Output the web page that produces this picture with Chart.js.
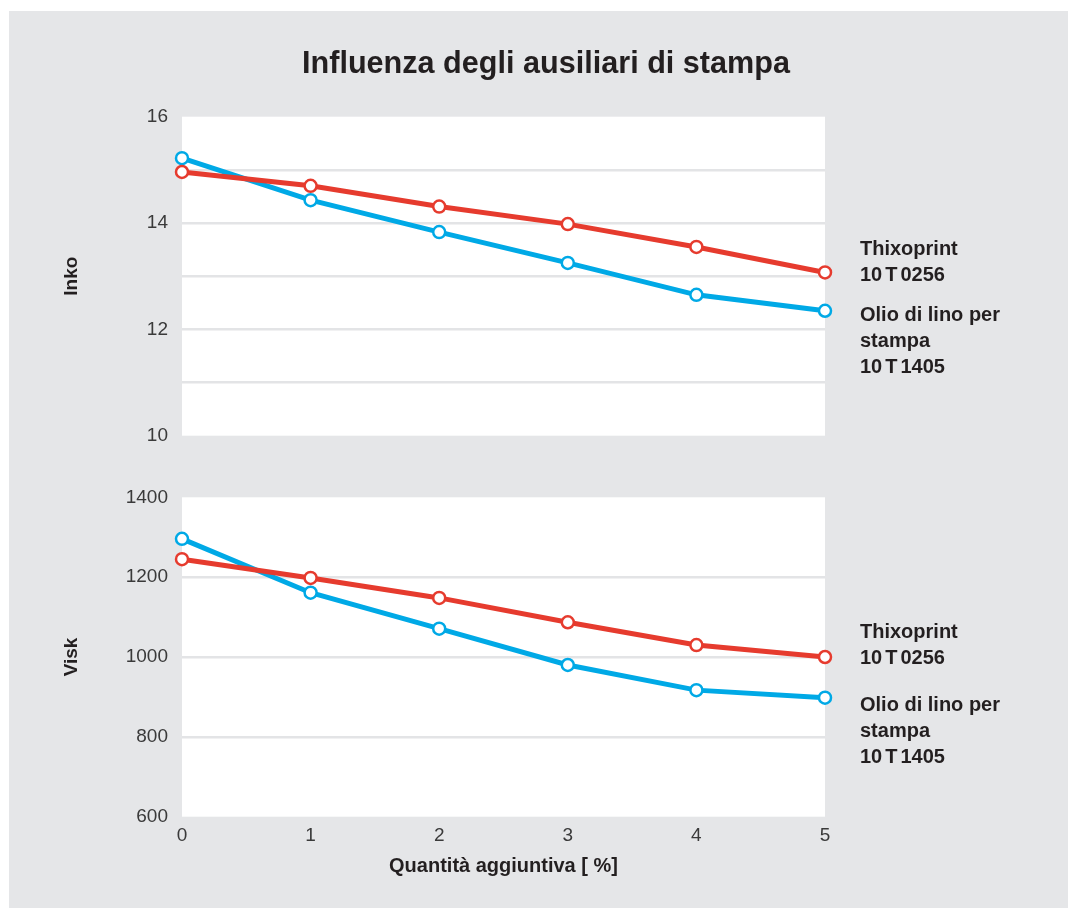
<!DOCTYPE html>
<html>
<head>
<meta charset="utf-8">
<script src="https://cdn.jsdelivr.net/npm/chart.js@4/dist/chart.umd.min.js"></script>
<style>
html,body{margin:0;padding:0;background:#fff;}
#wrap{position:relative;width:1068px;height:908px;overflow:hidden;}
#bg{position:absolute;left:9px;top:11px;right:0;bottom:0;background:#e5e6e8;}
canvas{position:absolute;left:0;top:0;}
.t{position:absolute;font-family:'Liberation Sans',Arial,Helvetica,sans-serif;color:#231f20;white-space:nowrap;}
#title{left:0;width:1092px;text-align:center;top:47px;font-size:30.6px;line-height:30px;font-weight:bold;}
.lg{left:860px;font-size:20px;line-height:26px;font-weight:bold;}
.sp{margin:0 3px;}
</style>
</head>
<body>
<div id="wrap">
  <div id="bg"></div>
  <canvas id="c1" width="1068" height="908"></canvas>
  <canvas id="c2" width="1068" height="908"></canvas>
  <div class="t" id="title">Influenza degli ausiliari di stampa</div>
  <div class="t lg" style="top:235px">Thixoprint<br>10<span class="sp">T</span>0256</div>
  <div class="t lg" style="top:301px">Olio di lino per<br>stampa<br>10<span class="sp">T</span>1405</div>
  <div class="t lg" style="top:618px">Thixoprint<br>10<span class="sp">T</span>0256</div>
  <div class="t lg" style="top:691px">Olio di lino per<br>stampa<br>10<span class="sp">T</span>1405</div>
</div>
<script>
// ---- data ----
const quantities = [0, 1, 2, 3, 4, 5];
const seriesNames = ['Thixoprint 10T0256', 'Olio di lino per stampa 10T1405'];
const inkoThixoprint = [14.96, 14.70, 14.31, 13.98, 13.55, 13.07];
const inkoOlio = [15.22, 14.43, 13.83, 13.25, 12.65, 12.35];
const viskThixoprint = [1245, 1198, 1148, 1087, 1030, 1000];
const viskOlio = [1296, 1161, 1071, 980, 917, 898];
const inkoTicks = [10, 12, 14, 16];
const viskTicks = [600, 800, 1000, 1200, 1400];
const xTitle = 'Quantità aggiuntiva [ %]';
const yTitleTop = 'Inko';
const yTitleBottom = 'Visk';

// ---- styles ----
const RED = '#e63b2e';
const BLUE = '#00a9e6';
const GRID = '#e3e4e6';
const FONT = "'Liberation Sans', Arial, Helvetica, sans-serif";
Chart.defaults.font.family = FONT;

const toPts = (ys) => quantities.map((x, i) => ({x, y: ys[i]}));

const plotBg = {
  id: 'plotBg',
  beforeDraw(c) {
    const a = c.chartArea, ctx = c.ctx;
    ctx.save();
    ctx.fillStyle = '#ffffff';
    ctx.fillRect(a.left, a.top, a.right - a.left, a.bottom - a.top);
    ctx.restore();
  }
};

function ds(label, ys, color) {
  return {
    label, data: toPts(ys),
    borderColor: color, borderWidth: 5,
    pointRadius: 6, pointBorderWidth: 2.5,
    pointBackgroundColor: '#ffffff', pointBorderColor: color,
    tension: 0, clip: false
  };
}

function gridColor(min, max) {
  return (ctx) => (ctx.tick && (ctx.tick.value === min || ctx.tick.value === max)) ? 'rgba(0,0,0,0)' : GRID;
}

function makeChart(id, d1, d2, yMin, yMax, yStep, labelTicks, yTitle, padding, showX) {
  return new Chart(document.getElementById(id), {
    type: 'line',
    data: { datasets: [ds(seriesNames[0], d1, RED), ds(seriesNames[1], d2, BLUE)] },
    plugins: [plotBg],
    options: {
      responsive: false, animation: false, devicePixelRatio: 1,
      layout: { padding },
      plugins: { legend: { display: false }, tooltip: { enabled: false }, title: { display: false } },
      scales: {
        x: {
          type: 'linear', min: quantities[0], max: quantities[quantities.length - 1],
          display: showX,
          grid: { display: false, drawTicks: false },
          border: { display: false },
          ticks: { stepSize: 1, padding: 8, color: '#3a3a3a', font: { size: 19 } },
          title: { display: showX, text: xTitle, color: '#231f20', font: { size: 20, weight: 'bold' }, padding: { top: 0, bottom: 30 } },
          afterFit: (s) => { s.height = showX ? 91.3 : 0; }
        },
        y: {
          type: 'linear', min: yMin, max: yMax,
          grid: { color: gridColor(yMin, yMax), lineWidth: 2.5, drawTicks: false },
          border: { display: false },
          ticks: {
            stepSize: yStep, padding: 14, color: '#3a3a3a', font: { size: 19 },
            callback: (v) => labelTicks.includes(v) ? String(v) : ''
          },
          title: { display: true, text: yTitle, color: '#231f20', font: { size: 19, weight: 'bold' }, padding: { top: 60, bottom: 0 } },
          afterFit: (s) => { s.width = 182; }
        }
      }
    }
  });
}

makeChart('c1', inkoThixoprint, inkoOlio, 10, 16, 1, inkoTicks, yTitleTop,
  { left: 0, top: 116.7, right: 243, bottom: 472.3 }, false);
makeChart('c2', viskThixoprint, viskOlio, 600, 1400, 200, viskTicks, yTitleBottom,
  { left: 0, top: 497.3, right: 243, bottom: 0 }, true);
</script>
</body>
</html>
